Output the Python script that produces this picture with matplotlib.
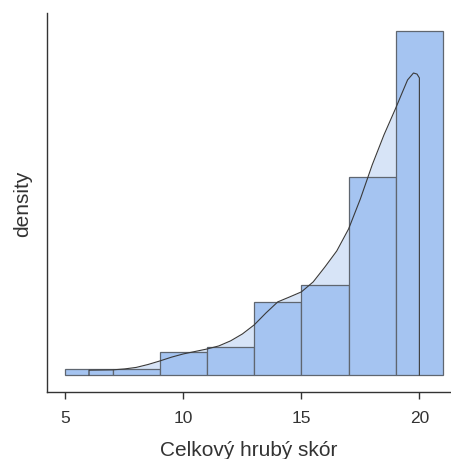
import numpy as np
import matplotlib
matplotlib.use('Agg')
import matplotlib.pyplot as plt

plt.rcParams['font.family'] = ['Liberation Sans', 'DejaVu Sans']

# histogram bins (width 2) and counts
bin_edges = [5, 7, 9, 11, 13, 15, 17, 19, 21]
counts = [1, 1, 4, 5, 13, 16, 35, 61]

# density curve (trimmed to data range 6..20)
dens_x = [6, 6.5, 7, 7.5, 8, 8.5, 9, 9.5, 10, 10.5, 11, 11.5, 12, 12.5, 13,
          13.5, 14, 14.5, 15, 15.5, 16, 16.5, 17, 17.5, 18, 18.5, 19, 19.25,
          19.5, 19.75, 19.9, 20]
dens_y = [0.0031, 0.0032, 0.0033, 0.0039, 0.0049, 0.0068, 0.0091, 0.0116,
          0.0137, 0.0153, 0.0169, 0.0189, 0.0222, 0.0267, 0.0326, 0.0404,
          0.0476, 0.0508, 0.0541, 0.0606, 0.0704, 0.0808, 0.0951, 0.1147,
          0.1368, 0.1564, 0.1739, 0.1831, 0.1922, 0.1967, 0.1960, 0.1935]

edges = np.array(bin_edges)
widths = np.diff(edges)
dens = np.array(counts) / (np.sum(counts) * widths)

fig = plt.figure(figsize=(4.51, 4.60), dpi=100)
ax = fig.add_axes([0.1042, 0.1457, 0.8958, 0.8239])

ax.fill_between(dens_x, dens_y, 0, color='#d7e4f7', lw=0, zorder=1)
ax.bar(edges[:-1], dens, width=widths, align='edge', color='#a5c4f1',
       edgecolor='#5f6670', linewidth=0.9, zorder=2)
ax.plot([dens_x[0]] + dens_x + [dens_x[-1]], [0] + dens_y + [0],
        color='#3a3a3a', lw=0.8, zorder=3)

ax.set_xlim(4.22, 21.34)
ax.set_ylim(-0.0111, 0.2358)

for s in ['top', 'right']:
    ax.spines[s].set_visible(False)
for s in ['left', 'bottom']:
    ax.spines[s].set_color('#333333')
    ax.spines[s].set_linewidth(1.0)

ax.set_xticks([5, 10, 15, 20])
ax.set_yticks([])
ax.tick_params(axis='x', length=5, width=1, color='#333333',
               labelsize=12.5, labelcolor='#333333', pad=8)

ax.set_xlabel('Celkový hrubý skór', fontsize=15, color='#333333', labelpad=11)
ax.set_ylabel('density', fontsize=15, color='#333333', labelpad=11)

fig.savefig('out.png', dpi=100)
